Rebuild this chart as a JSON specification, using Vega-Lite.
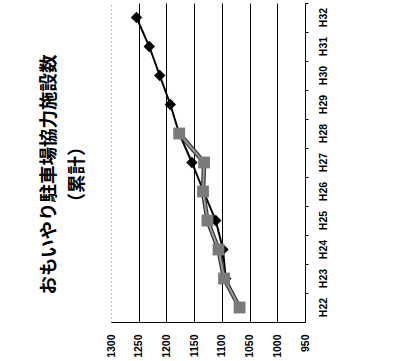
{
  "$schema": "https://vega.github.io/schema/vega-lite/v6.json",
  "autosize": {"type": "none"},
  "padding": {"left": 111, "top": 3, "right": 94, "bottom": 39},
  "width": 194,
  "height": 319,
  "background": "white",
  "config": {"view": {"stroke": null}},
  "title": {
    "text": ["おもいやり駐車場協力施設数", "（累計）"],
    "orient": "left",
    "anchor": "middle",
    "font": "Noto Sans CJK JP",
    "fontSize": 18.5,
    "fontWeight": "bold",
    "lineHeight": 28,
    "color": "black",
    "offset": 20,
    "dx": -12
  },
  "data": {
    "values": [
      {"year": "H22", "series": "plan", "value": 1068},
      {"year": "H23", "series": "plan", "value": 1093},
      {"year": "H24", "series": "plan", "value": 1098},
      {"year": "H25", "series": "plan", "value": 1111},
      {"year": "H26", "series": "plan", "value": 1133},
      {"year": "H27", "series": "plan", "value": 1154},
      {"year": "H28", "series": "plan", "value": 1177},
      {"year": "H29", "series": "plan", "value": 1193},
      {"year": "H30", "series": "plan", "value": 1212},
      {"year": "H31", "series": "plan", "value": 1231},
      {"year": "H32", "series": "plan", "value": 1254},
      {"year": "H22", "series": "actual", "value": 1068},
      {"year": "H23", "series": "actual", "value": 1096},
      {"year": "H24", "series": "actual", "value": 1106},
      {"year": "H25", "series": "actual", "value": 1126},
      {"year": "H26", "series": "actual", "value": 1134},
      {"year": "H27", "series": "actual", "value": 1132},
      {"year": "H28", "series": "actual", "value": 1177}
    ]
  },
  "encoding": {
    "y": {
      "field": "year",
      "type": "ordinal",
      "sort": "descending",
      "scale": {"type": "band", "paddingInner": 0, "paddingOuter": 0},
      "axis": {
        "orient": "right",
        "title": null,
        "bandPosition": 0,
        "domain": true,
        "domainColor": "black",
        "domainWidth": 1,
        "ticks": true,
        "tickSize": 3,
        "tickColor": "black",
        "grid": false,
        "labelAngle": -90,
        "labelAlign": "center",
        "labelBaseline": "top",
        "labelPadding": 10,
        "labelFont": "Liberation Sans",
        "labelFontSize": 10.5,
        "labelFontWeight": "bold",
        "labelColor": "black"
      }
    },
    "x": {
      "field": "value",
      "type": "quantitative",
      "scale": {"domain": [950, 1300], "reverse": true, "nice": false, "zero": false},
      "axis": {
        "orient": "bottom",
        "title": null,
        "format": "d",
        "values": [950, 1000, 1050, 1100, 1150, 1200, 1250, 1300],
        "grid": true,
        "gridColor": {"condition": {"test": "datum.value === 1300", "value": "#888888"}, "value": "black"},
        "gridDash": {"condition": {"test": "datum.value === 1300", "value": [1, 3]}, "value": []},
        "gridWidth": 1,
        "ticks": false,
        "domain": true,
        "domainColor": "black",
        "labelAngle": -90,
        "labelAlign": "right",
        "labelBaseline": "middle",
        "labelPadding": 12,
        "labelFont": "Liberation Sans",
        "labelFontSize": 10.5,
        "labelFontWeight": "bold",
        "labelColor": "black",
        "labelFlush": false
      }
    }
  },
  "layer": [
    {
      "transform": [{"filter": "datum.series === 'plan'"}],
      "mark": {"type": "line", "color": "black", "strokeWidth": 2},
      "encoding": {}
    },
    {
      "transform": [{"filter": "datum.series === 'plan'"}],
      "mark": {"type": "point", "shape": "diamond", "filled": true, "color": "black", "size": 130, "opacity": 1},
      "encoding": {}
    },
    {
      "transform": [{"filter": "datum.series === 'actual'"}],
      "mark": {"type": "line", "color": "#3a3a3a", "strokeWidth": 4.5},
      "encoding": {}
    },
    {
      "transform": [{"filter": "datum.series === 'actual'"}],
      "mark": {"type": "line", "color": "#9a9a9a", "strokeWidth": 2},
      "encoding": {}
    },
    {
      "transform": [{"filter": "datum.series === 'actual'"}],
      "mark": {"type": "point", "shape": "square", "filled": true, "color": "#7a7a7a", "size": 140, "opacity": 1},
      "encoding": {}
    }
  ]
}
